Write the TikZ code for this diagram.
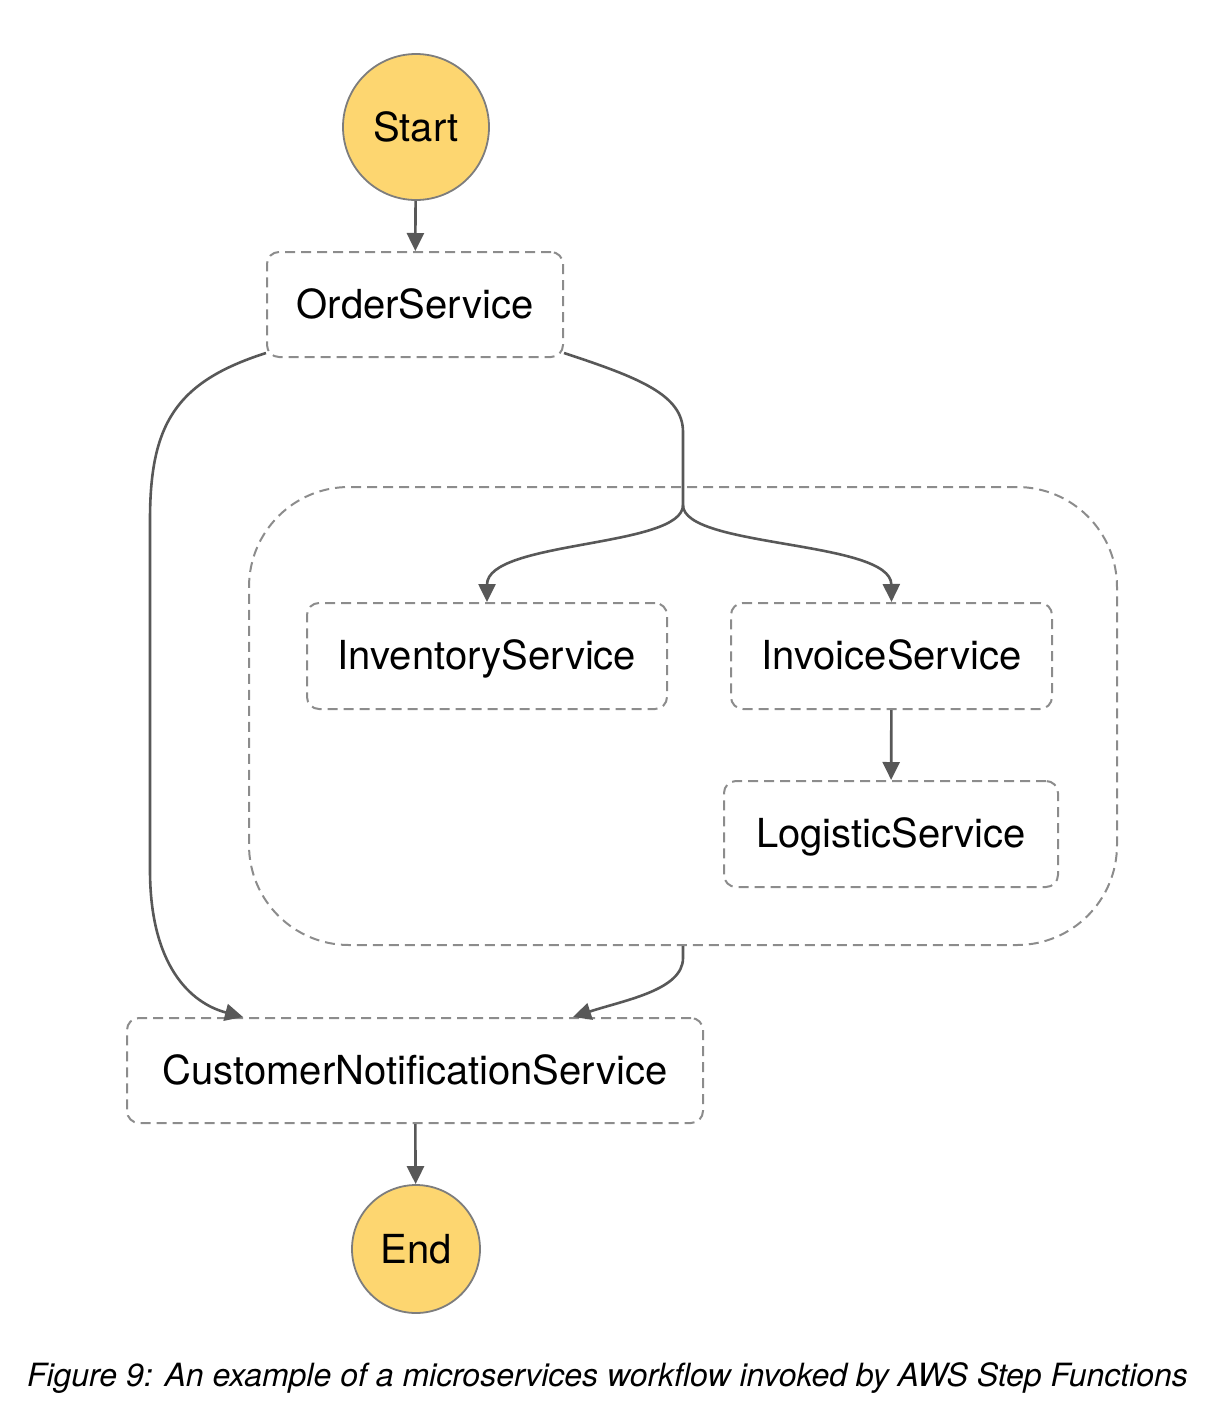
\documentclass[tikz,border=0pt]{standalone}
\usepackage{fontspec}
\setmainfont{TeX Gyre Heros}
\usetikzlibrary{arrows.meta}
\definecolor{fillY}{RGB}{253,214,112}
\definecolor{circB}{RGB}{125,125,125}
\definecolor{dashG}{RGB}{140,140,140}
\definecolor{lineG}{RGB}{88,88,88}
\begin{document}
\begin{tikzpicture}[x=1pt,y=-1pt,
  state/.style={circle, draw=circB, line width=1.8pt, fill=fillY, inner sep=0pt,
    font=\fontsize{40}{48}\selectfont},
  task/.style={rectangle, rounded corners=12pt, draw=dashG, line width=2pt,
    dash pattern=on 10pt off 6pt, inner sep=0pt, minimum height=105pt,
    text height=31pt, text depth=4pt,
    font=\fontsize{40}{48}\selectfont},
  conn/.style={draw=lineG, line width=2.6pt, -{Triangle[length=18pt,width=17pt]}},
  plain/.style={draw=lineG, line width=2.6pt}]
\useasboundingbox (0,0) rectangle (1216,1428);

% parallel container
\node[draw=dashG, line width=2pt, dash pattern=on 10pt off 6pt, rounded corners=100pt,
  minimum width=868pt, minimum height=458pt, inner sep=0pt] (par) at (683,716) {};

\node[state, minimum size=146pt] (start) at (416,127) {Start};
\node[task, minimum width=296pt] (order) at (415,304.5) {OrderService};
\node[task, minimum width=360pt, minimum height=106pt] (inventory) at (487,656) {InventoryService};
\node[task, minimum width=321pt, minimum height=106pt] (invoice) at (891.5,656) {InvoiceService};
\node[task, minimum width=334pt, minimum height=106pt] (logistic) at (891,834) {LogisticService};
\node[task, minimum width=576pt] (cns) at (415,1070.5) {CustomerNotificationService};
\node[state, minimum size=128pt] (end) at (416,1249) {End};

\coordinate (fork) at (683,505);

\draw[conn] (start) -- (order);
\draw[plain] ([yshift=5pt]order.south east) .. controls (640,378) and (683,395) .. (683,432) -- (fork);
\draw[conn] (fork) .. controls (683,548) and (487,540) .. (inventory.north);
\draw[conn] (fork) .. controls (683,548) and (891,540) .. (invoice.north);
\draw[conn] (invoice) -- (logistic);
\draw[conn] ([yshift=5pt]order.south west) .. controls (175,382) and (150,425) .. (150,520)
  -- (150,870) .. controls (150,965) and (190,1003) .. ([xshift=-172pt]cns.north);
\draw[conn] (par.south) -- (683,958) .. controls (683,990) and (625,1000) .. ([xshift=158pt]cns.north);
\draw[conn] (cns) -- (end);

\node[font=\fontsize{32}{38}\selectfont\itshape] (caption) at (607.5,1378) {Figure 9: An example of a microservices workflow invoked by AWS Step Functions};
\end{tikzpicture}
\end{document}
